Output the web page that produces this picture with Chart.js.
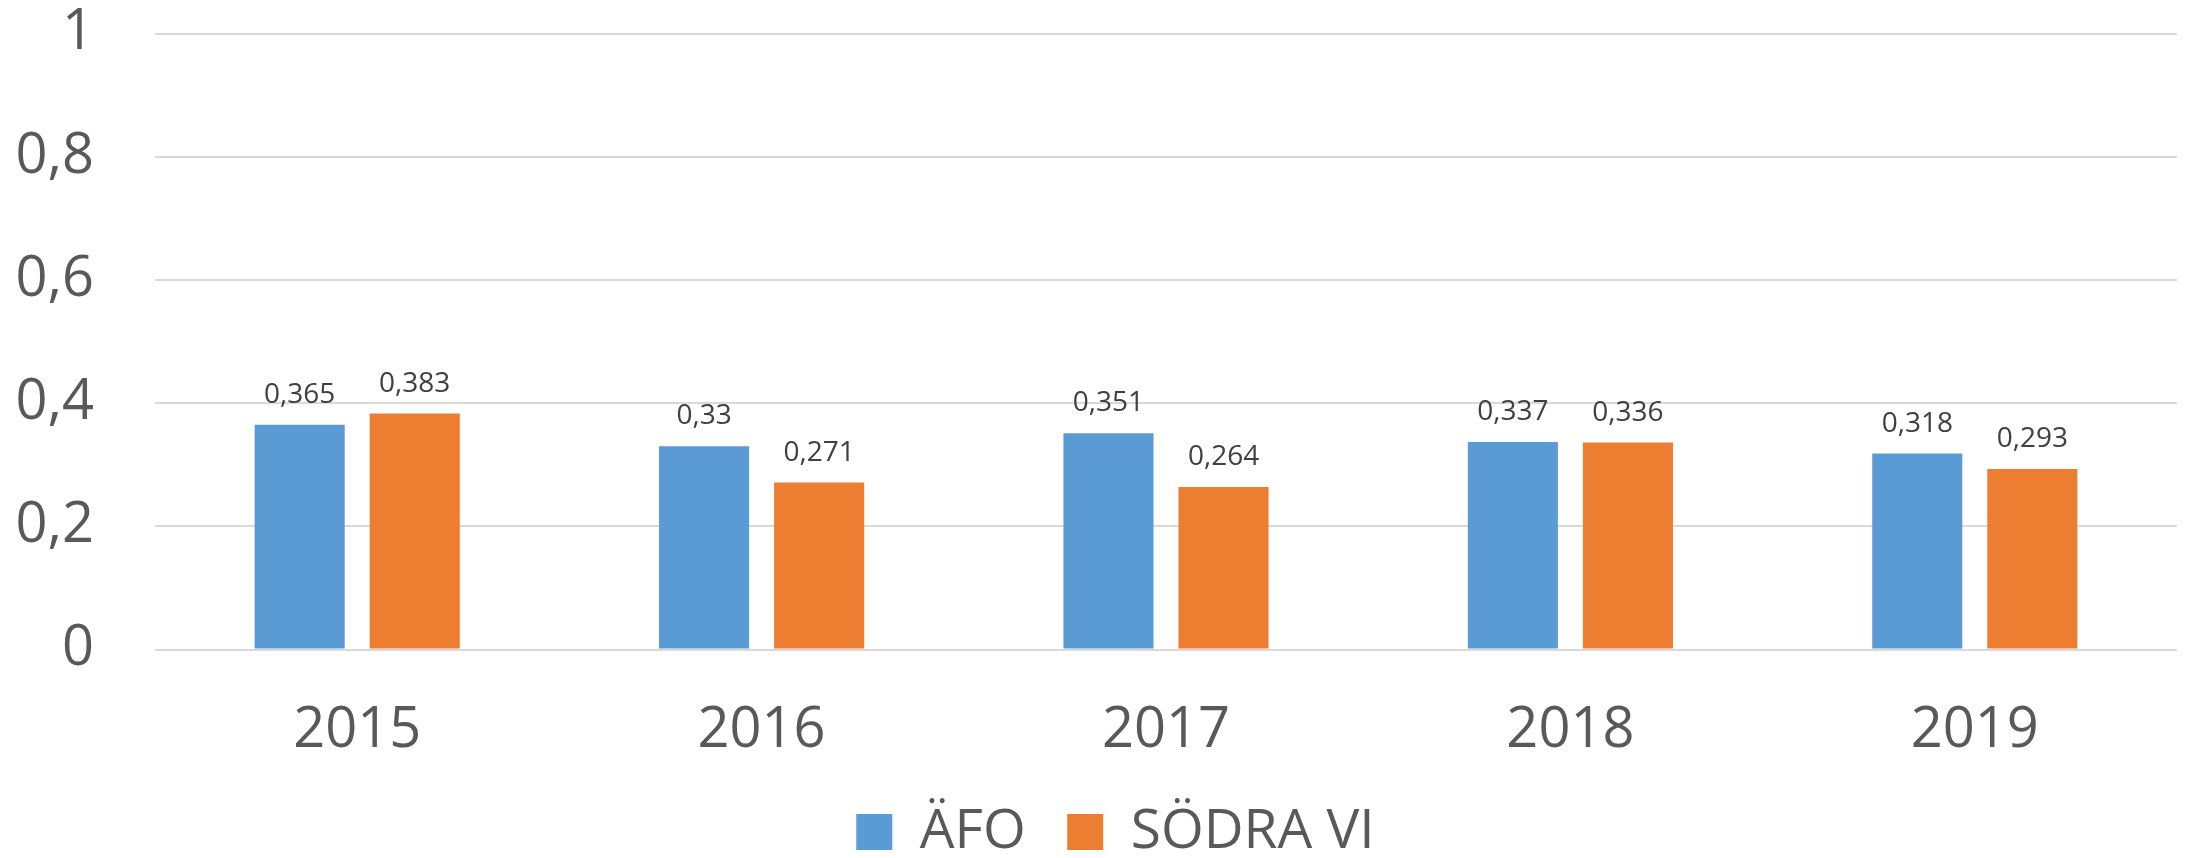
<!DOCTYPE html>
<html>
<head>
<meta charset="utf-8">
<script src="https://cdn.jsdelivr.net/npm/chart.js@4"></script>
<style>
  body { margin: 0; background: #fff; }
  #wrap { width: 2188px; height: 858px; position: relative; }
</style>
</head>
<body>
<div id="wrap"><canvas id="barChart"></canvas></div>
<script>
// data
const years = ['2015', '2016', '2017', '2018', '2019'];
const afoValues = [0.365, 0.33, 0.351, 0.337, 0.318];
const sodraValues = [0.383, 0.271, 0.264, 0.336, 0.293];
const yTicks = [0, 0.2, 0.4, 0.6, 0.8, 1];

const fmt = v => String(v).replace('.', ',');

// draws the value above each bar (no datalabels plugin offline)
const valueLabels = {
    id: 'valueLabels',
    afterDatasetsDraw(chart) {
        const ctx = chart.ctx;
        ctx.save();
        ctx.font = '28px "Open Sans"';
        ctx.fillStyle = '#404040';
        ctx.textAlign = 'center';
        ctx.textBaseline = 'alphabetic';
        chart.data.datasets.forEach((ds, i) => {
            chart.getDatasetMeta(i).data.forEach((bar, j) => {
                ctx.fillText(fmt(ds.data[j]), bar.x, bar.y - 22);
            });
        });
        ctx.restore();
    }
};

// legend in the original sits a bit right of the canvas centre
const legendShift = {
    id: 'legendShift',
    afterLayout(chart) {
        chart.legend.left += 54;
    }
};

const ctx = document.getElementById('barChart').getContext('2d');
const barChart = new Chart(ctx, {
    type: 'bar',
    data: {
        labels: years,
        datasets: [{
            label: 'ÄFO',
            data: afoValues,
            backgroundColor: '#5B9BD5'
        }, {
            label: 'SÖDRA VI',
            data: sodraValues,
            backgroundColor: '#ED7D31'
        }]
    },
    options: {
        responsive: true,
        maintainAspectRatio: false,
        animation: false,
        categoryPercentage: 0.569,
        barPercentage: 0.783,
        layout: { padding: { top: 0, right: 11, left: 0, bottom: -11.5 } },
        plugins: {
            tooltip: { enabled: false },
            legend: {
                position: 'bottom',
                labels: {
                    font: { family: 'Open Sans', size: 55 },
                    color: '#595959',
                    boxWidth: 36,
                    boxHeight: 36,
                    padding: 41.5
                }
            }
        },
        scales: {
            x: {
                grid: { display: false },
                border: { display: false },
                ticks: {
                    font: { family: 'Open Sans', size: 56 },
                    color: '#595959',
                    padding: 40
                },
                afterFit: scale => { scale.height = 113.5; }
            },
            y: {
                min: 0,
                max: 1,
                afterBuildTicks: scale => { scale.ticks = yTicks.map(v => ({ value: v })); },
                grid: { color: '#D9D9D9', lineWidth: 2, drawTicks: false },
                border: { display: false },
                ticks: {
                    font: { family: 'Open Sans', size: 56 },
                    color: '#595959',
                    padding: 61,
                    callback: v => fmt(v)
                },
                afterFit: scale => {
                    scale.width = 155;
                    scale.paddingTop = 33.5;
                    scale.paddingBottom = 0;
                }
            }
        }
    },
    plugins: [valueLabels, legendShift]
});
</script>
</body>
</html>
